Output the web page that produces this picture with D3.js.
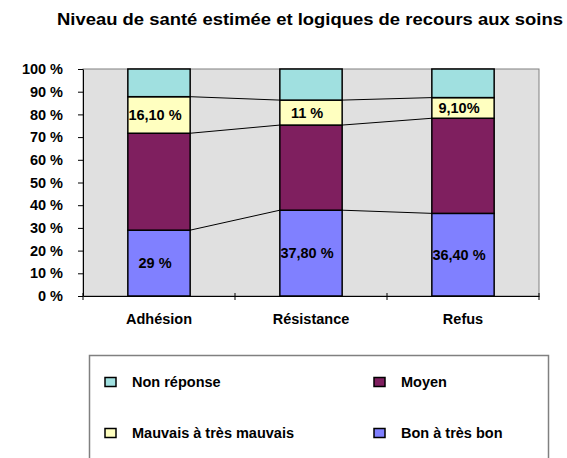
<!DOCTYPE html>
<html>
<head>
<meta charset="utf-8">
<script src="https://cdn.jsdelivr.net/npm/d3@7"></script>
<style>
  body { margin: 0; background: #fff; }
  svg { display: block; font-family: "Liberation Sans", Arial, sans-serif; font-weight: bold; }
</style>
</head>
<body>
<div id="container"></div>
<script>
/* DATA */
const categories = ["Adhésion", "Résistance", "Refus"];
const bonValues = [29, 37.8, 36.4];
const moyenValues = [42.7, 37.5, 41.9];
const mauvaisValues = [16.1, 11, 9.1];
const nonReponseValues = [12.2, 13.7, 12.6];
const bonLabels = ["29 %", "37,80 %", "36,40 %"];
const mauvaisLabels = ["16,10 %", "11 %", "9,10%"];
const yTicks = [0, 10, 20, 30, 40, 50, 60, 70, 80, 90, 100];

const seriesNames = ["Bon à très bon", "Moyen", "Mauvais à très mauvais", "Non réponse"];
const seriesColors = ["#8080FF", "#7F1F5F", "#FFFFC0", "#A0E0E0"];

/* CONSTANTS */
const width = 567, height = 458;
const plot = { left: 83, right: 539, top: 69, bottom: 296 };
const fontSize = 14.5;

const svg = d3.select("#container")
  .append("svg")
  .attr("width", width)
  .attr("height", height);

// build rows for the stack
const rows = categories.map((c, i) => ({
  cat: c,
  "Bon à très bon": bonValues[i],
  "Moyen": moyenValues[i],
  "Mauvais à très mauvais": mauvaisValues[i],
  "Non réponse": nonReponseValues[i]
}));
const stacked = d3.stack().keys(seriesNames)(rows);

/* SCALES */
const xScale = d3.scaleBand()
  .domain(categories)
  .range([plot.left, plot.right])
  .paddingInner(0.59)
  .paddingOuter(0.295);

const yScale = d3.scaleLinear()
  .domain([0, 100])
  .range([plot.bottom, plot.top]);

const colorScale = d3.scaleOrdinal().domain(seriesNames).range(seriesColors);

// title
svg.append("text")
  .attr("x", 310)
  .attr("y", 25)
  .attr("text-anchor", "middle")
  .attr("textLength", 506)
  .attr("lengthAdjust", "spacingAndGlyphs")
  .style("font-size", "16.5px")
  .text("Niveau de santé estimée et logiques de recours aux soins");

// plot background
svg.append("rect")
  .attr("x", plot.left)
  .attr("y", plot.top)
  .attr("width", plot.right - plot.left)
  .attr("height", plot.bottom - plot.top)
  .attr("fill", "#E0E0E0")
  .attr("stroke", "#808080")
  .attr("stroke-width", 1);

// series lines between bars
const step = xScale.step();
stacked.slice(0, 3).forEach(layer => {
  for (let i = 0; i < categories.length - 1; i++) {
    svg.append("line")
      .attr("x1", xScale(categories[i]) + xScale.bandwidth())
      .attr("x2", xScale(categories[i + 1]))
      .attr("y1", yScale(layer[i][1]))
      .attr("y2", yScale(layer[i + 1][1]))
      .attr("stroke", "#000")
      .attr("stroke-width", 1);
  }
});

// bars
svg.selectAll("g.layer")
  .data(stacked)
  .join("g")
  .attr("class", "layer")
  .attr("fill", d => colorScale(d.key))
  .selectAll("rect")
  .data(d => d)
  .join("rect")
  .attr("x", d => xScale(d.data.cat))
  .attr("y", d => yScale(d[1]))
  .attr("width", xScale.bandwidth())
  .attr("height", d => yScale(d[0]) - yScale(d[1]))
  .attr("stroke", "#000")
  .attr("stroke-width", 1.5);

// data labels
const labelLayers = [[stacked[0], bonLabels], [stacked[2], mauvaisLabels]];
labelLayers.forEach(([layer, labels]) => {
  svg.append("g")
    .selectAll("text")
    .data(layer)
    .join("text")
    .attr("x", d => xScale(d.data.cat) + xScale.bandwidth() / 2 - 4)
    .attr("y", d => (yScale(d[0]) + yScale(d[1])) / 2)
    .attr("dy", "0.36em")
    .attr("text-anchor", "middle")
    .style("font-size", fontSize + "px")
    .text((d, i) => labels[i]);
});

// y axis
const yAxis = d3.axisLeft(yScale)
  .tickValues(yTicks)
  .tickFormat(d => d + " %")
  .tickSize(5)
  .tickSizeOuter(0)
  .tickPadding(15);

const yG = svg.append("g")
  .attr("transform", `translate(${plot.left},0)`)
  .call(yAxis);
yG.selectAll(".tick text")
  .attr("font-family", null)
  .attr("font-size", null)
  .style("font-size", fontSize + "px")
  .attr("fill", "#000");
yG.select(".domain").attr("stroke", "#000");

// x axis (labels)
const xAxis = d3.axisBottom(xScale)
  .tickSize(0)
  .tickSizeOuter(0)
  .tickPadding(18);

const xG = svg.append("g")
  .attr("transform", `translate(0,${plot.bottom})`)
  .call(xAxis);
xG.selectAll(".tick text")
  .attr("font-family", null)
  .attr("font-size", null)
  .style("font-size", fontSize + "px")
  .attr("fill", "#000");
xG.select(".domain").attr("stroke", "#000");

// category boundary ticks
d3.range(categories.length + 1).forEach(i => {
  const x = plot.left + i * step;
  xG.append("line")
    .attr("x1", x).attr("x2", x)
    .attr("y1", -3).attr("y2", 4)
    .attr("stroke", "#000");
});

// legend
const legend = svg.append("g");
legend.append("rect")
  .attr("x", 89.5)
  .attr("y", 355.5)
  .attr("width", 459)
  .attr("height", 120)
  .attr("fill", "#fff")
  .attr("stroke", "#808080")
  .attr("stroke-width", 1.5);

const legendItems = [
  { name: "Non réponse", col: 0, row: 0 },
  { name: "Moyen", col: 1, row: 0 },
  { name: "Mauvais à très mauvais", col: 0, row: 1 },
  { name: "Bon à très bon", col: 1, row: 1 }
];
const legendCols = [105, 374];
const legendRows = [382, 433];

const items = legend.selectAll("g.item")
  .data(legendItems)
  .join("g")
  .attr("class", "item")
  .attr("transform", d => `translate(${legendCols[d.col]},${legendRows[d.row]})`);

items.append("rect")
  .attr("x", 0)
  .attr("y", -4.5)
  .attr("width", 11)
  .attr("height", 9)
  .attr("fill", d => colorScale(d.name))
  .attr("stroke", "#000")
  .attr("stroke-width", 1.5);

items.append("text")
  .attr("x", 27)
  .attr("dy", "0.36em")
  .style("font-size", fontSize + "px")
  .text(d => d.name);
</script>
</body>
</html>
